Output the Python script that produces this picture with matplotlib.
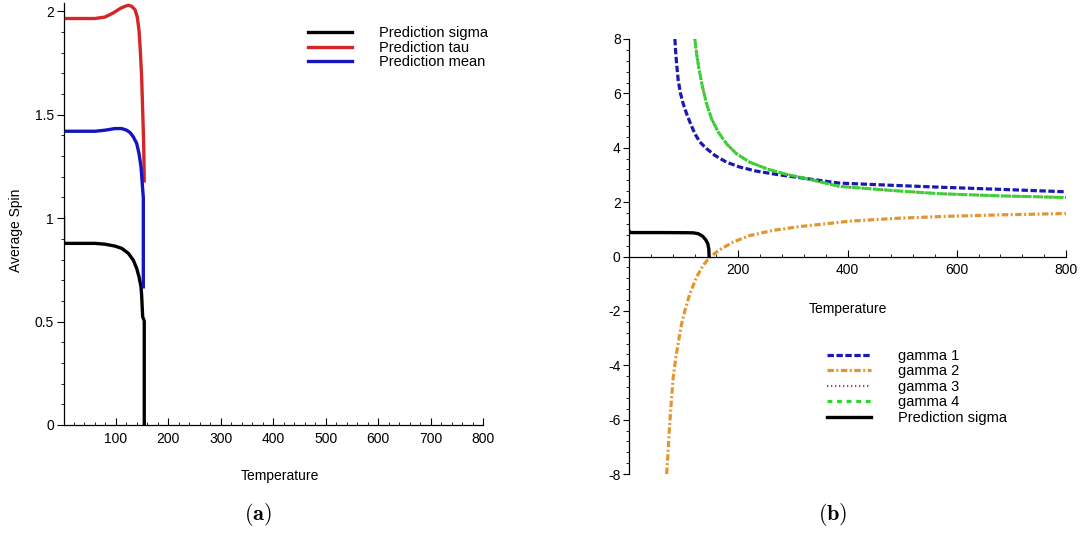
import matplotlib
matplotlib.use("Agg")
import matplotlib.pyplot as plt
from matplotlib.ticker import MultipleLocator, FixedLocator, FuncFormatter
from matplotlib.lines import Line2D

plt.rcParams['font.family'] = ['Liberation Sans', 'DejaVu Sans']
plt.rcParams['mathtext.fontset'] = 'cm'

# ---------------- Panel (a) data ----------------
a_sigma_T = [0, 0, 2, 60, 79, 98, 111, 123.6, 133.1, 139.6, 144, 147.8, 149, 151, 153.5, 154, 154]
a_sigma_v = [1.0, 0.88, 0.878, 0.878, 0.874, 0.865, 0.854, 0.83, 0.797, 0.757, 0.716, 0.668, 0.628, 0.523, 0.507, 0.5, 0.0]

a_tau_T = [0, 40, 60, 79, 95, 107.7, 117.3, 123.6, 130, 136.3, 140.7, 144, 146.5, 149, 151, 152.9, 154]
a_tau_v = [1.965, 1.965, 1.965, 1.972, 1.992, 2.013, 2.024, 2.029, 2.024, 2.008, 1.972, 1.908, 1.81, 1.683, 1.52, 1.36, 1.18]

a_mean_T = [0, 40, 60, 79, 98, 111, 120.5, 126.8, 133.1, 139.6, 144, 147.8, 149.7, 151.6, 152.2, 152.2]
a_mean_v = [1.42, 1.42, 1.42, 1.425, 1.433, 1.433, 1.425, 1.414, 1.393, 1.361, 1.312, 1.248, 1.184, 1.119, 1.1, 0.668]

a_xticks = [100, 200, 300, 400, 500, 600, 700, 800]
a_yticks = [0, 0.5, 1, 1.5, 2]

# ---------------- Panel (b) data ----------------
g1_T = [84.0, 85.2, 87.1, 90.1, 94.4, 99.2, 105.3, 112.6, 120.5, 129.7, 141.9, 157.1, 178.4,
        202.7, 233.2, 269.7, 312.3, 385, 480, 568, 680, 800]
g1_v = [8.0, 7.59, 7.10, 6.48, 5.99, 5.62, 5.26, 4.89, 4.52, 4.21, 3.97, 3.72, 3.47,
        3.29, 3.14, 3.02, 2.90, 2.70, 2.62, 2.55, 2.47, 2.38]

g2_T = [68.8, 70.6, 73, 74.9, 78, 81, 85.8, 91.9, 96.3, 102.3, 111.4, 123.6, 135.7, 148,
        166.2, 190.5, 221, 263.6, 312, 373, 403.7, 495, 586, 677.6, 800]
g2_v = [-8.0, -7.51, -6.65, -6.04, -5.18, -4.44, -3.71, -2.97, -2.48, -1.99, -1.37, -0.76, -0.33, -0.02,
        0.25, 0.53, 0.77, 0.96, 1.1, 1.23, 1.3, 1.41, 1.48, 1.53, 1.58]

g34_T = [120.5, 123.6, 128.5, 134.6, 141.9, 151.0, 163.2, 178.4, 196.7, 221, 251.5, 288, 312.3,
         385, 480, 568, 680, 800]
g3_v = [8.0, 7.47, 6.85, 6.24, 5.62, 5.07, 4.58, 4.15, 3.78, 3.47, 3.23, 3.02, 2.92,
        2.58, 2.43, 2.31, 2.23, 2.17]
g4_v = [8.0, 7.47, 6.85, 6.24, 5.62, 5.07, 4.58, 4.15, 3.78, 3.47, 3.23, 3.02, 2.92,
        2.58, 2.43, 2.31, 2.23, 2.17]

b_sigma_T = [0, 2, 60, 106, 117.5, 126.6, 134.6, 140.6, 144.3, 146.1, 146.7]
b_sigma_v = [0.95, 0.88, 0.88, 0.875, 0.87, 0.84, 0.75, 0.61, 0.47, 0.28, 0.0]

b_xticks = [200, 400, 600, 800]
b_yticks = [-8, -6, -4, -2, 0, 2, 4, 6, 8]

# ---------------- colours ----------------
C_BLACK = '#000000'
C_RED = '#d42626'
C_BLUE = '#1414c0'
C_NAVY = '#1a1ab0'
C_ORANGE = '#e3962f'
C_DOTRED = '#b8453a'
C_GREEN = '#2fd62f'

W, H = 1083, 533
fig = plt.figure(figsize=(W / 100, H / 100), dpi=100)


def fmt(v, pos):
    if abs(v - round(v)) < 1e-9:
        return '%d' % round(v)
    return '%g' % v


# ---------------- Panel (a) ----------------
axA = fig.add_axes([63.5 / W, 1 - 425 / H, (483 - 63.5) / W, (425 - 3) / H])
axA.plot(a_sigma_T, a_sigma_v, color=C_BLACK, lw=2.4, label='Prediction sigma', solid_joinstyle='round')
axA.plot(a_tau_T, a_tau_v, color=C_RED, lw=2.4, label='Prediction tau', solid_joinstyle='round')
axA.plot(a_mean_T, a_mean_v, color=C_BLUE, lw=2.4, label='Prediction mean', solid_joinstyle='round')
axA.set_xlim(0, 800)
axA.set_ylim(0, 2.04)
for s in ['top', 'right']:
    axA.spines[s].set_visible(False)
axA.xaxis.set_major_locator(FixedLocator(a_xticks))
axA.xaxis.set_minor_locator(MultipleLocator(20))
axA.yaxis.set_major_locator(FixedLocator(a_yticks))
axA.yaxis.set_minor_locator(MultipleLocator(0.1))
axA.yaxis.set_major_formatter(FuncFormatter(fmt))
axA.tick_params(axis='x', which='major', direction='in', length=5, width=0.8, pad=5, labelsize=10)
axA.tick_params(axis='x', which='minor', direction='in', length=2.5, width=0.6)
axA.tick_params(axis='y', which='major', direction='out', length=5, width=0.8, pad=2, labelsize=10)
axA.tick_params(axis='y', which='minor', direction='out', length=2.5, width=0.6)
for s in ['left', 'bottom']:
    axA.spines[s].set_linewidth(0.9)
fig.text(280 / W, 1 - 476 / H, 'Temperature', ha='center', va='center', fontsize=10)
fig.text(16 / W, 1 - 230 / H, 'Average Spin', ha='center', va='center', rotation=90, fontsize=10)

fig.legend(*axA.get_legend_handles_labels(), loc='upper left',
           bbox_to_anchor=(308 / W, 1 - 26 / H), bbox_transform=fig.transFigure,
           frameon=False, fontsize=10.5, handlelength=3.0, handletextpad=1.9,
           labelspacing=0.05, borderpad=0, borderaxespad=0)

# ---------------- Panel (b) ----------------
axB = fig.add_axes([629 / W, 1 - 474 / H, (1066 - 629) / W, (474 - 39) / H])
l3, = axB.plot(g34_T, g3_v, color=C_DOTRED, lw=1.8, label='gamma 3')
l3.set_dashes((0.6, 1.0))
l1, = axB.plot(g1_T, g1_v, color=C_NAVY, lw=2.3, label='gamma 1')
l1.set_dashes((2.0, 0.8))
l2, = axB.plot(g2_T, g2_v, color=C_ORANGE, lw=2.3, label='gamma 2')
l2.set_dashes((2.0, 0.8, 0.6, 0.8))
l4, = axB.plot(g34_T, g4_v, color=C_GREEN, lw=2.2, label='gamma 4', alpha=0.95)
l4.set_dashes((3.0, 0.5))
l5, = axB.plot(b_sigma_T, b_sigma_v, color=C_BLACK, lw=2.4, label='Prediction sigma', solid_joinstyle='round')
axB.set_xlim(0, 800)
axB.set_ylim(-8, 8)
for s in ['top', 'right']:
    axB.spines[s].set_visible(False)
axB.spines['bottom'].set_position(('data', 0))
for s in ['left', 'bottom']:
    axB.spines[s].set_linewidth(0.9)
axB.xaxis.set_major_locator(FixedLocator(b_xticks))
axB.xaxis.set_minor_locator(MultipleLocator(40))
axB.yaxis.set_major_locator(FixedLocator(b_yticks))
axB.yaxis.set_minor_locator(MultipleLocator(0.4))
axB.yaxis.set_major_formatter(FuncFormatter(fmt))
axB.tick_params(axis='x', which='major', direction='in', length=5, width=0.8, pad=5, labelsize=10)
axB.tick_params(axis='x', which='minor', direction='in', length=2.5, width=0.6)
axB.tick_params(axis='y', which='major', direction='out', length=4, width=0.8, pad=2, labelsize=10)
axB.tick_params(axis='y', which='minor', direction='out', length=2, width=0.6)
fig.text(848 / W, 1 - 309 / H, 'Temperature', ha='center', va='center', fontsize=10)

hB = [Line2D([], [], color=C_NAVY, lw=2.3, dashes=(2.0, 0.8)),
      Line2D([], [], color=C_ORANGE, lw=2.3, dashes=(2.0, 0.8, 0.6, 0.8)),
      Line2D([], [], color=C_DOTRED, lw=1.6, dashes=(0.6, 1.2)),
      Line2D([], [], color=C_GREEN, lw=2.3, dashes=(1.5, 1.5)),
      Line2D([], [], color=C_BLACK, lw=2.4)]
labB = ['gamma 1', 'gamma 2', 'gamma 3', 'gamma 4', 'Prediction sigma']
fig.legend(hB, labB, loc='upper left',
           bbox_to_anchor=(827 / W, 1 - 349 / H), bbox_transform=fig.transFigure,
           frameon=False, fontsize=10.5, handlelength=3.0, handletextpad=1.9,
           labelspacing=0.1, borderpad=0, borderaxespad=0)

# ---------------- captions ----------------
fig.text(258 / W, 1 - 515 / H, r'$\mathbf{(a)}$', ha='center', va='center', fontsize=16)
fig.text(833 / W, 1 - 515 / H, r'$\mathbf{(b)}$', ha='center', va='center', fontsize=16)

fig.savefig('out.png', dpi=100)
